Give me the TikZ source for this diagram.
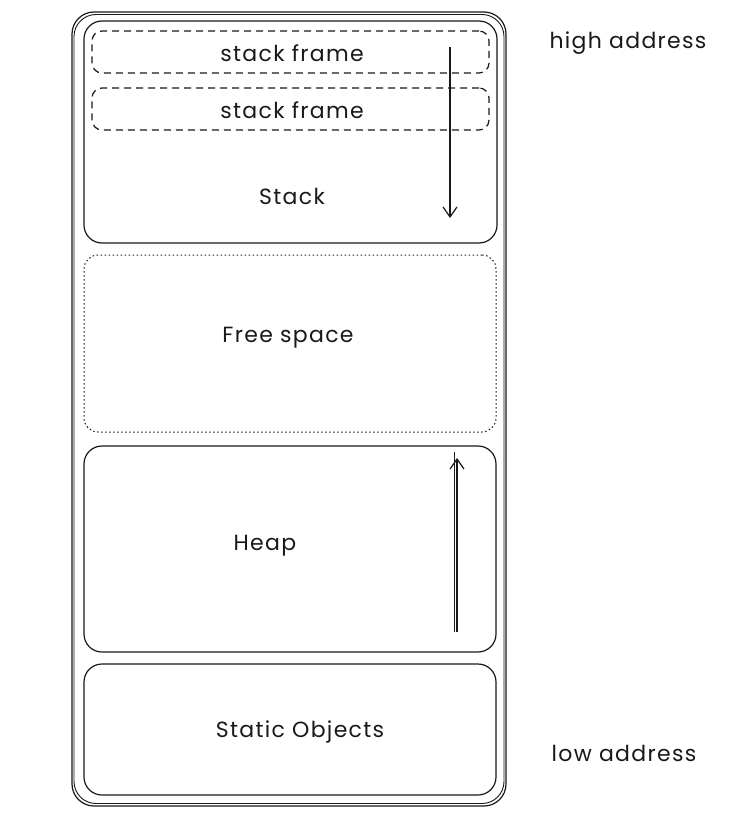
\documentclass[tikz,border=0pt]{standalone}
\usepackage{fontspec}
\setmainfont{Poppins}[LetterSpace=6]
\usetikzlibrary{arrows.meta}
\begin{document}
\begin{tikzpicture}[x=1pt,y=-1pt,
  box/.style={draw=black!90, line width=1.2pt, rounded corners=18pt, inner sep=0pt},
  framebox/.style={draw=black!90, line width=1.2pt, dash pattern=on 7pt off 5pt, rounded corners=10pt, inner sep=0pt},
  freebox/.style={draw=black!90, line width=1pt, dash pattern=on 1.5pt off 2.5pt, rounded corners=14pt, inner sep=0pt},
  lbl/.style={font=\fontsize{22}{26}\selectfont, text=black!90},
  arr/.style={draw=black!90, line width=1.2pt, -{Straight Barb[length=10pt,width=14pt,line width=1.2pt]}}
]
\useasboundingbox (0,0) rectangle (753,821);
% outer container, sketched twice
\node[box, minimum width=434pt, minimum height=794pt, rounded corners=22pt] (outer) at (289,409) {};
\draw[draw=black!90, line width=0.9pt, rounded corners=22pt] (74,14.5) rectangle (504,803.5);
% stack
\node[box, minimum width=413pt, minimum height=222pt] (stack) at (290.5,132) {};
\node[framebox, minimum width=397pt, minimum height=42pt] (f1) at (290.5,52) {};
\node[framebox, minimum width=397pt, minimum height=42pt] (f2) at (290.5,109) {};
\node[lbl] (f1t) at (292,53) {stack frame};
\node[lbl] (f2t) at (292,110) {stack frame};
\node[lbl] (stackt) at (292,196) {Stack};
\coordinate (sa) at (450,47);
\coordinate (sb) at (450,218);
\draw[arr] (sa) -- (sb);
% free space
\node[freebox, minimum width=412pt, minimum height=177pt] (free) at (290,343.5) {};
\node[lbl] (freet) at (288,338) {Free space};
% heap
\node[box, minimum width=412pt, minimum height=206pt] (heap) at (290,549) {};
\node[lbl] (heapt) at (265,546) {Heap};
\coordinate (ha) at (457,632);
\coordinate (hb) at (457,458);
\draw[arr] (ha) -- (hb);
\draw[draw=black!90, line width=1pt] ([xshift=-3pt]ha) -- ([xshift=-3pt,yshift=6pt]hb);
% static objects
\node[box, minimum width=412pt, minimum height=131pt] (static) at (290,729.5) {};
\node[lbl] (statict) at (300,732) {Static Objects};
% address labels
\node[lbl] (high) at (628,43) {high address};
\node[lbl] (low) at (624,753) {low address};
\end{tikzpicture}
\end{document}
